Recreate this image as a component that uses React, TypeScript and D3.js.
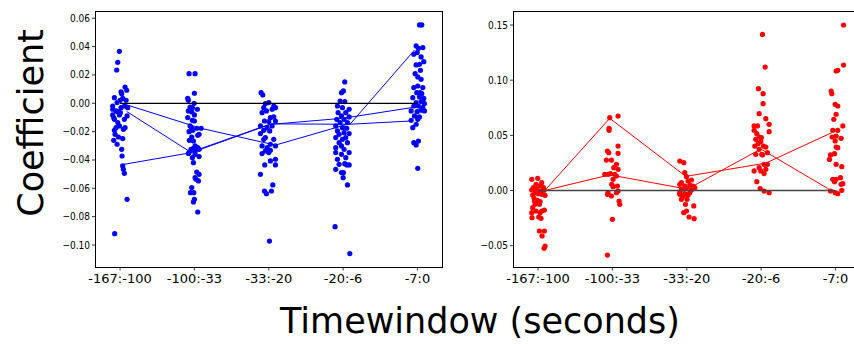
import React from 'react';
import * as d3 from 'd3';

const windows = ['-167:-100', '-100:-33', '-33:-20', '-20:-6', '-7:0'];
const leftTicks = [0.06, 0.04, 0.02, 0, -0.02, -0.04, -0.06, -0.08, -0.1];
const rightTicks = [0.15, 0.1, 0.05, 0, -0.05];

// [coefficient, jitter within category]
const blue1: [number, number][] = [[0.0367,-0.009],[0.0289,-0.031],[0.0235,-0.045],[0.0115,0.067],[0.0092,0.090],[0.0080,0.013],[0.0068,0.022],[0.0040,-0.076],[0.0035,0.036],[0.0021,0.0],[0.0021,0.081],[0.0005,-0.040],[-0.0019,-0.099],[-0.0019,0.058],[-0.0031,0.103],[-0.0042,-0.099],[-0.0059,-0.031],[-0.0066,0.004],[-0.0082,-0.099],[-0.0082,-0.009],[-0.0089,0.094],[-0.0113,-0.076],[-0.0113,0.058],[-0.0136,-0.031],[-0.0160,-0.009],[-0.0172,-0.054],[-0.0172,0.067],[-0.0191,-0.076],[-0.0184,0.045],[-0.0219,-0.067],[-0.0238,-0.022],[-0.0249,0.036],[-0.0261,-0.085],[-0.0289,-0.040],[-0.0325,0.022],[-0.0372,0.027],[-0.0442,0.036],[-0.0466,0.045],[-0.0494,0.058],[-0.0678,0.094],[-0.0920,-0.072],[-0.0054,-0.054],[-0.0031,0.013],[-0.0101,-0.085]];
const blue2: [number, number][] = [[0.0209,-0.072],[0.0209,0.009],[0.0071,0],[0.0035,-0.090],[0.0021,-0.081],[0.0,-0.004],[-0.0026,-0.058],[-0.0031,-0.027],[-0.0042,0.040],[-0.0054,-0.081],[-0.0061,-0.036],[-0.0082,0],[-0.0101,-0.090],[-0.0120,-0.027],[-0.0125,0],[-0.0160,-0.058],[-0.0176,-0.036],[-0.0176,0.031],[-0.0176,0.090],[-0.0191,-0.022],[-0.0200,-0.072],[-0.0219,0.063],[-0.0226,0.045],[-0.0238,-0.036],[-0.0261,-0.067],[-0.0266,-0.013],[-0.0301,0.009],[-0.0318,-0.013],[-0.0313,0.045],[-0.0325,-0.045],[-0.0325,0.063],[-0.0355,-0.081],[-0.0360,0.009],[-0.0376,0.063],[-0.0384,-0.027],[-0.0419,-0.013],[-0.0485,0.031],[-0.0501,0.063],[-0.0525,0.009],[-0.0548,0.054],[-0.0536,0.022],[-0.0595,-0.036],[-0.0631,-0.054],[-0.0631,-0.009],[-0.0678,0],[-0.0696,-0.013],[-0.0767,0.045],[-0.0348,-0.072],[-0.0341,0.009]];
const blue3: [number, number][] = [[0.0075,-0.103],[0.0059,-0.081],[-0.0002,-0.045],[0.0005,0],[-0.0019,0.067],[-0.0031,-0.067],[-0.0042,0.045],[-0.0031,0.090],[-0.0054,-0.031],[-0.0066,-0.090],[-0.0101,0.022],[-0.0096,0.067],[-0.0125,-0.058],[-0.0129,0],[-0.0125,0.090],[-0.0160,-0.112],[-0.0172,-0.022],[-0.0160,0.045],[-0.0191,-0.067],[-0.0195,0.013],[-0.0214,-0.112],[-0.0242,-0.045],[-0.0254,0.067],[-0.0254,-0.067],[-0.0289,0.022],[-0.0301,-0.090],[-0.0313,-0.022],[-0.0301,0.090],[-0.0336,-0.045],[-0.0348,0],[-0.0355,-0.090],[-0.0332,0.022],[-0.0395,0.090],[-0.0407,0.022],[-0.0435,-0.054],[-0.0435,0.090],[-0.0501,-0.112],[-0.0576,0.054],[-0.0619,-0.058],[-0.0638,-0.031],[-0.0619,0.036],[-0.0972,0.009]];
const blue4: [number, number][] = [[0.0151,0.022],[0.0087,0.004],[0.0075,-0.022],[0.0016,-0.040],[0.0012,0.022],[-0.0019,-0.076],[-0.0031,-0.009],[-0.0042,0.081],[-0.0066,-0.067],[-0.0066,0.036],[-0.0089,-0.022],[-0.0096,0.081],[-0.0113,-0.085],[-0.0113,0.013],[-0.0136,-0.040],[-0.0136,0.058],[-0.0160,-0.099],[-0.0172,-0.009],[-0.0195,-0.076],[-0.0176,0.049],[-0.0219,-0.054],[-0.0207,0.013],[-0.0214,0.081],[-0.0242,-0.099],[-0.0254,-0.009],[-0.0242,0.036],[-0.0278,-0.054],[-0.0278,0.058],[-0.0313,-0.099],[-0.0301,-0.022],[-0.0325,0.013],[-0.0348,0.081],[-0.0348,-0.099],[-0.0360,-0.022],[-0.0395,-0.076],[-0.0384,0.036],[-0.0431,-0.054],[-0.0435,0.081],[-0.0426,0.022],[-0.0466,-0.099],[-0.0489,-0.022],[-0.0489,0.004],[-0.0525,0],[-0.0576,0.058],[-0.0871,-0.108],[-0.1061,0.090],[-0.0435,0.049]];
const blue5: [number, number][] = [[0.0553,0.027],[0.0553,0.058],[0.0405,-0.018],[0.0388,0.013],[0.0393,0.072],[0.0358,-0.004],[0.0346,-0.049],[0.0327,0.049],[0.0294,0.085],[0.0271,-0.018],[0.0275,0.027],[0.0209,-0.031],[0.0233,0.040],[0.0186,0.004],[0.0169,0.049],[0.0111,-0.049],[0.0122,0.004],[0.0111,0.072],[0.0075,-0.009],[0.0068,0.058],[0.0040,-0.063],[0.0045,0.027],[0.0035,0.085],[0.0005,-0.018],[0.0012,0.049],[-0.0002,0.094],[-0.0019,-0.049],[-0.0019,0.013],[-0.0031,0.072],[-0.0054,-0.085],[-0.0059,-0.004],[-0.0049,0.049],[-0.0054,0.094],[-0.0089,-0.040],[-0.0096,0.027],[-0.0120,-0.085],[-0.0113,0.004],[-0.0148,-0.018],[-0.0172,-0.063],[-0.0278,-0.049],[-0.0266,0.013],[-0.0294,-0.018],[-0.0459,0.004],[0.0016,0.072],[0.0075,0.036]];

const red1: [number, number][] = [[0.0101,-0.085],[0.0110,-0.004],[0.0071,0.049],[0.0056,-0.027],[0.0041,0.027],[0.0026,-0.063],[0.0026,0.072],[0.0005,-0.085],[0.0011,-0.018],[-0.0005,0.027],[0.0002,0.081],[-0.0020,-0.040],[-0.0029,0.004],[-0.0041,-0.072],[-0.0035,0.049],[-0.0044,0.094],[-0.0071,-0.054],[-0.0089,-0.009],[-0.0101,0.027],[-0.0125,-0.040],[-0.0125,0.018],[-0.0156,-0.072],[-0.0177,0.085],[-0.0186,-0.027],[-0.0186,0.049],[-0.0201,-0.085],[-0.0201,0.027],[-0.0240,0.009],[-0.0246,-0.081],[-0.0252,0.040],[-0.0367,0.018],[-0.0367,0.085],[-0.0412,0.054],[-0.0503,0.094],[-0.0524,0.081],[-0.0095,-0.049]];
const red2: [number, number][] = [[0.0660,-0.036],[0.0675,0.076],[0.0563,-0.045],[0.0545,-0.045],[0.0358,-0.067],[0.0343,-0.049],[0.0403,0.076],[0.0337,0.076],[0.0276,-0.081],[0.0276,-0.013],[0.0237,0.054],[0.0207,0.018],[0.0192,0.076],[0.0147,-0.058],[0.0153,-0.027],[0.0147,-0.103],[0.0147,0.031],[0.0101,0.009],[0.0131,0.054],[0.0056,-0.009],[0.0041,0.067],[0.0035,0.009],[-0.0020,-0.058],[-0.0050,-0.013],[-0.0020,0.054],[-0.0005,0.076],[-0.0035,-0.067],[-0.0095,0.090],[-0.0125,0.099],[-0.0261,0],[-0.0585,-0.067]];
const red3: [number, number][] = [[0.0267,-0.094],[0.0252,-0.040],[0.0162,-0.027],[0.0125,-0.004],[0.0071,-0.072],[0.0086,0.018],[0.0095,0.063],[0.0056,-0.094],[0.0041,-0.027],[0.0050,0.040],[0.0041,0.085],[0.0011,-0.072],[0.0020,-0.004],[0.0005,0.063],[0.0026,0.108],[-0.0020,-0.094],[-0.0029,-0.027],[-0.0020,0.040],[-0.0050,-0.049],[-0.0041,0.018],[-0.0080,-0.072],[-0.0125,-0.018],[-0.0140,0.094],[-0.0201,-0.040],[-0.0186,-0.004],[-0.0240,0.031],[-0.0255,0.099],[-0.0035,-0.094],[-0.0080,0.004]];
const red4: [number, number][] = [[0.1415,0.018],[0.1119,0.054],[0.0923,-0.036],[0.0878,0.027],[0.0787,0.027],[0.0696,-0.027],[0.0651,0.063],[0.0600,0.108],[0.0585,-0.094],[0.0585,-0.049],[0.0545,-0.094],[0.0515,-0.058],[0.0533,0.108],[0.0485,-0.027],[0.0479,0.004],[0.0464,-0.072],[0.0443,-0.004],[0.0403,-0.085],[0.0403,0.031],[0.0394,0.063],[0.0373,-0.027],[0.0328,-0.072],[0.0322,0.018],[0.0343,0.085],[0.0237,0.040],[0.0237,0.085],[0.0207,-0.027],[0.0192,0.063],[0.0177,-0.094],[0.0177,-0.004],[0.0153,0.040],[0.0080,-0.058],[0.0017,-0.013],[-0.0005,0.040],[-0.0020,0.108],[0.0328,0.009],[0.0424,-0.040]];
const red5: [number, number][] = [[0.1500,0.108],[0.1137,0.108],[0.1083,0.009],[0.1089,0.031],[0.0902,-0.058],[0.0878,-0.049],[0.0781,-0.004],[0.0766,0.031],[0.0690,0.009],[0.0645,-0.022],[0.0585,0.099],[0.0545,-0.036],[0.0545,0.031],[0.0494,0.009],[0.0485,-0.045],[0.0473,0.076],[0.0449,-0.004],[0.0394,0.009],[0.0388,0.031],[0.0334,-0.013],[0.0322,-0.067],[0.0282,-0.081],[0.0237,0.009],[0.0216,0.085],[0.0101,-0.036],[0.0101,0.009],[0.0116,0.067],[0.0080,-0.013],[0.0062,0.099],[0.0056,0.076],[-0.0005,-0.067],[-0.0020,-0.004],[-0.0029,0.031],[0.0002,0.085]];

// connecting trajectories: coefficient per window + jitter per window
const blueLineValues = [
  [0.0004, -0.0176, -0.0295, -0.0141, 0.0376],
  [-0.0058, -0.0345, -0.0150, -0.0105, -0.0024],
  [-0.0435, -0.0348, -0.0145, -0.0148, -0.0125],
];
const blueLineJitter = [
  [0.0, 0.085, 0.09, 0.104, -0.04],
  [0.09, -0.05, 0.0, 0.01, 0.0],
  [0.005, -0.04, 0.04, 0.08, -0.09],
];
const redLineValues = [
  [0.0, 0.0654, 0.0128, 0.0248, 0.0527],
  [0.0, 0.0142, 0.0012, 0.0376, 0.0],
];
const redLineJitter = [
  [0.09, -0.036, -0.013, 0.063, -0.04],
  [0.09, -0.036, 0.009, -0.004, -0.058],
];

const blueGroups = [blue1, blue2, blue3, blue4, blue5];
const redGroups = [red1, red2, red3, red4, red5];

const tickFont = "'DejaVu Sans Condensed', 'DejaVu Sans', sans-serif";
const labelFont = "'DejaVu Sans', sans-serif";
const fmt = (v: number) => d3.format('.2f')(v).replace('-', '\u2212');

type PanelProps = {
  x0: number; x1: number; y0: number; y1: number;
  yDomain: [number, number]; ticks: number[];
  groups: [number, number][][]; lineValues: number[][]; lineJitter: number[][];
  color: string; zeroColor: string; zeroWidth: number;
};

function Panel(p: PanelProps) {
  const x = d3.scaleLinear().domain([-0.337, 4.33]).range([p.x0, p.x1]);
  const y = d3.scaleLinear().domain(p.yDomain).range([p.y1, p.y0]);
  const line = d3.line<[number, number]>().x(d => x(d[0])).y(d => y(d[1]));
  return (
    <g>
      {p.groups.map((g, i) => g.map((d, j) => (
        <circle key={`${i}-${j}`} cx={x(i + d[1])} cy={y(d[0])} r={2.6} fill={p.color} />
      )))}
      {p.lineValues.map((vals, k) => (
        <path key={k} d={line(vals.map((v, i) => [i + p.lineJitter[k][i], v]) as [number, number][]) || ''}
          fill="none" stroke={p.color} strokeWidth={1} />
      ))}
      <line x1={x(0)} x2={x(4)} y1={y(0)} y2={y(0)} stroke={p.zeroColor} strokeWidth={p.zeroWidth} />
      <rect x={p.x0 + 0.5} y={p.y0 + 0.5} width={p.x1 - p.x0} height={p.y1 - p.y0} fill="none" stroke="#000" strokeWidth={1} />
      {p.ticks.map(t => (
        <g key={t}>
          <line x1={p.x0 - 3} x2={p.x0} y1={y(t)} y2={y(t)} stroke="#000" strokeWidth={0.8} />
          <text x={p.x0 - 5} y={y(t)} dy="0.35em" textAnchor="end" fontFamily={tickFont} fontSize={10} fill="#000">{fmt(t)}</text>
        </g>
      ))}
      {windows.map((w, i) => (
        <g key={w}>
          <line x1={x(i)} x2={x(i)} y1={p.y1} y2={p.y1 + 3.5} stroke="#000" strokeWidth={0.8} />
          <text x={x(i)} y={p.y1 + 16} textAnchor="middle" fontFamily={labelFont} fontSize={13} fill="#000">{w}</text>
        </g>
      ))}
    </g>
  );
}

export default function App() {
  const yL = d3.scaleLinear().domain([0, -0.1]).range([103.3, 245]);
  const yR = d3.scaleLinear().domain([0, 0.15]).range([190.5, 25]);
  return (
    <svg width={854} height={344} style={{ position: 'absolute', left: 0, top: 0, background: '#fff' }}>
      <rect width={854} height={344} fill="#fff" />
      <Panel x0={95} x1={442} y0={11} y1={267} yDomain={[yL.invert(267), yL.invert(11)]} ticks={leftTicks}
        groups={blueGroups} lineValues={blueLineValues} lineJitter={blueLineJitter}
        color="#0000ff" zeroColor="#000" zeroWidth={1.3} />
      <Panel x0={513} x1={860} y0={11} y1={267} yDomain={[yR.invert(267), yR.invert(11)]} ticks={rightTicks}
        groups={redGroups} lineValues={redLineValues} lineJitter={redLineJitter}
        color="#ff0000" zeroColor="#444" zeroWidth={1.6} />
      <text transform="translate(43,123) rotate(-90)" textAnchor="middle" fontFamily={labelFont} fontSize={35} fill="#000">Coefficient</text>
      <text x={480} y={333} textAnchor="middle" fontFamily={labelFont} fontSize={35} fill="#000">Timewindow (seconds)</text>
    </svg>
  );
}
